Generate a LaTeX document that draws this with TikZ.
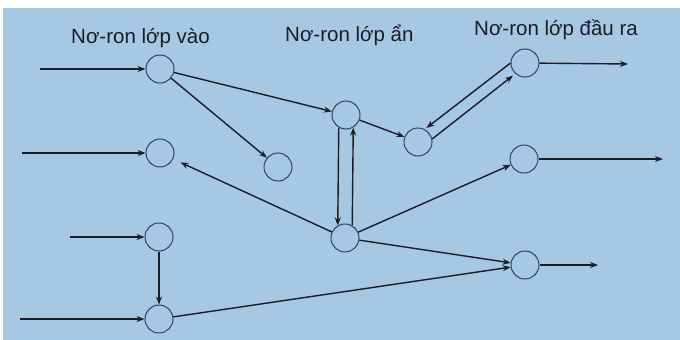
\documentclass[tikz,border=0pt]{standalone}
\usepackage{fontspec}
\setmainfont{Liberation Sans}
\usetikzlibrary{arrows.meta}
\definecolor{paper}{RGB}{166,200,226}
\definecolor{ink}{RGB}{26,28,40}
\definecolor{ring}{RGB}{44,68,94}
\begin{document}
\begin{tikzpicture}[x=1pt,y=-1pt,
  neuron/.style={circle,draw=ring,line width=1pt,minimum size=28pt,inner sep=0pt},
  link/.style={draw=ink,line width=1.4pt,-{Stealth[length=8pt,width=6pt]}},
  title/.style={anchor=base west,inner sep=0pt,text=ink,font=\fontsize{20.5}{24}\selectfont}]
  % page and paper
  \useasboundingbox (0,0) rectangle (680,340);
  \fill[white] (0,0) rectangle (680,340);
  \fill[paper] (3,8) rectangle (680,340);

  % layer captions
  \node[title] (t1) at (71,43) {Nơ-ron lớp vào};
  \node[title] (t2) at (285,41) {Nơ-ron lớp ẩn};
  \node[title] (t3) at (474,35) {Nơ-ron lớp đầu ra};

  % input layer
  \node[neuron] (i1) at (160,69) {};
  \node[neuron] (i2) at (160,153) {};
  \node[neuron] (i3) at (159,237) {};
  \node[neuron] (i4) at (159,319) {};
  \node[neuron] (x)  at (278,167) {};
  % hidden layer
  \node[neuron] (h1) at (346,115) {};
  \node[neuron] (h2) at (345,238) {};
  \node[neuron] (h3) at (418,142) {};
  % output layer
  \node[neuron] (o1) at (525,63) {};
  \node[neuron] (o2) at (524,159) {};
  \node[neuron] (o3) at (525,265) {};

  % external inputs and outputs
  \coordinate (s1) at (40,69);
  \coordinate (s2) at (22,153);
  \coordinate (s3) at (70,237);
  \coordinate (s4) at (20,319);
  \coordinate (e1) at (628,64);
  \coordinate (e2) at (663,159);
  \coordinate (e3) at (598,265);
  \draw[link] (s1) -- (i1);
  \draw[link] (s2) -- (i2);
  \draw[link] (s3) -- (i3);
  \draw[link] (s4) -- (i4);
  \draw[link] (o1) -- (e1);
  \draw[link] (o2) -- (e2);
  \draw[link] (o3) -- (e3);

  % connections
  \draw[link] (i1) -- (h1);
  \draw[link] (i1) -- (x);
  \draw[link,shorten >=8pt] (h2) -- (i2);
  \draw[link] (h1) -- (h3);
  \draw[link,shorten >=2pt] (o1.180) -- (h3.62);
  \draw[link,shorten >=3pt] (h3.12) -- (o1.228);
  \draw[link] (h1.240) -- (h2.120);
  \draw[link] (h2.60) -- (h1.300);
  \draw[link] (h2) -- (o2);
  \draw[link] (h2) -- (o3);
  \draw[link] (i3) -- (i4);
  \draw[link] (i4) -- (o3);
\end{tikzpicture}
\end{document}
